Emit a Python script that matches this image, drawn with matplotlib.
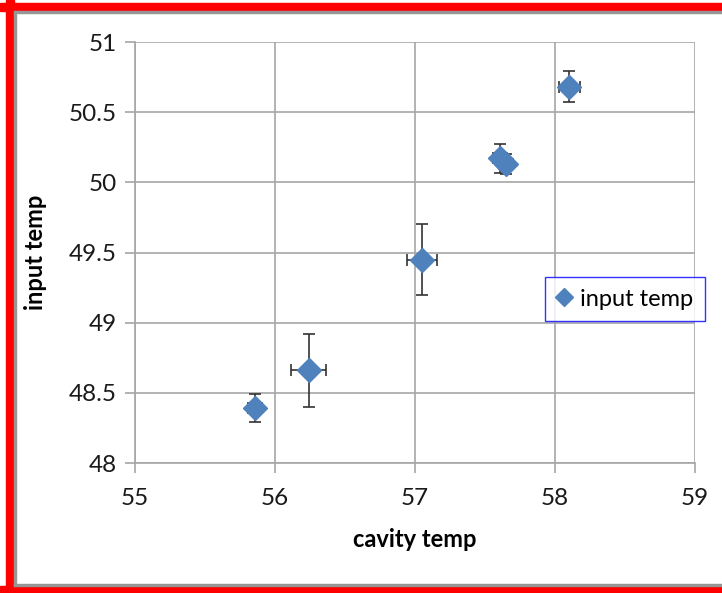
import matplotlib
matplotlib.use("Agg")
import matplotlib.pyplot as plt
from matplotlib.patches import Rectangle

plt.rcParams['font.family'] = ['Lato', 'DejaVu Sans']

# cavity temp (x) vs input temp (y), with error bars
cavity_temp = [55.86, 56.24, 57.05, 57.61, 57.65, 58.10]
input_temp = [48.39, 48.66, 49.45, 50.17, 50.13, 50.68]
x_err = [0.05, 0.125, 0.11, 0.05, 0.05, 0.075]
y_err = [0.10, 0.26, 0.25, 0.10, 0.07, 0.11]

x_ticks = [55, 56, 57, 58, 59]
y_ticks = [48, 48.5, 49, 49.5, 50, 50.5, 51]
y_labels = ["48", "48.5", "49", "49.5", "50", "50.5", "51"]

W, H = 722, 593
fig = plt.figure(figsize=(W / 100, H / 100), dpi=100)

# red frame with thin grey inner line
fig.patches.append(Rectangle((6 / W, 0), 8 / W, 1, transform=fig.transFigure,
                             color="#ff0000", zorder=0))
fig.patches.append(Rectangle((0, 1 - 11 / H), 1, 8 / H, transform=fig.transFigure,
                             color="#ff0000", zorder=0))
fig.patches.append(Rectangle((0, 0), 1, 7 / H, transform=fig.transFigure,
                             color="#ff0000", zorder=0))
fig.patches.append(Rectangle((14 / W, 7 / H), 2 / W, 1 - 18 / H, transform=fig.transFigure,
                             color="#969696", zorder=0))
fig.patches.append(Rectangle((14 / W, 1 - 13 / H), 1, 2 / H, transform=fig.transFigure,
                             color="#969696", zorder=0))
fig.patches.append(Rectangle((14 / W, 7 / H), 1, 2 / H, transform=fig.transFigure,
                             color="#969696", zorder=0))

ax = fig.add_axes([135 / W, 130 / H, 560 / W, 421 / H])
ax.set_xlim(55, 59)
ax.set_ylim(48, 51)
ax.set_xticks(x_ticks)
ax.set_yticks(y_ticks)
ax.set_yticklabels(y_labels)
ax.grid(True, color="#a6a6a6", linewidth=1.2)
ax.set_axisbelow(True)
for side in ["top", "right"]:
    ax.spines[side].set_visible(False)
for side in ["left", "bottom"]:
    ax.spines[side].set_color("#a6a6a6")
    ax.spines[side].set_linewidth(1.2)
ax.tick_params(axis="both", length=7, width=1.2, color="#a6a6a6",
               labelsize=17.5, labelcolor="#1a1a1a")
ax.tick_params(axis="x", pad=11)
ax.tick_params(axis="y", pad=6)

ax.errorbar(cavity_temp, input_temp, xerr=x_err, yerr=y_err, fmt="none",
            ecolor="#333333", elinewidth=1.2, capsize=4.5, capthick=1.2, zorder=2)
ax.plot(cavity_temp, input_temp, linestyle="none", marker="D", markersize=12,
        color="#4f81bd", markeredgecolor="#4f81bd", label="input temp", zorder=3)

ax.set_xlabel("cavity temp", fontsize=17, fontweight="bold", labelpad=14)
ax.set_ylabel("input temp", fontsize=17, fontweight="bold", labelpad=16)

leg = ax.legend(loc="center", bbox_to_anchor=(625 / W, 1 - 299 / H),
                bbox_transform=fig.transFigure, fontsize=17, frameon=True,
                fancybox=False, handlelength=0.6, handletextpad=0.4,
                borderpad=0.5, markerscale=0.75)
leg.get_frame().set_edgecolor("#0000ff")
leg.get_frame().set_linewidth(1.0)

fig.savefig("out.png", dpi=100)
